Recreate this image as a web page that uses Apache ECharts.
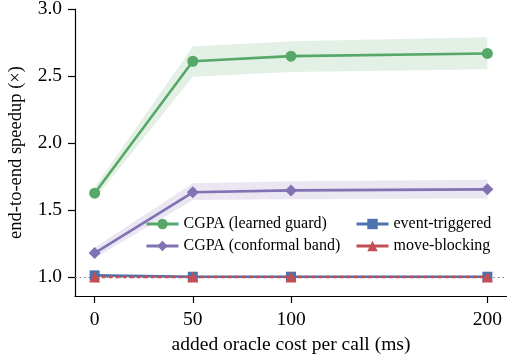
<!DOCTYPE html>
<html><head><meta charset="utf-8">
<script src="https://cdn.jsdelivr.net/npm/echarts@6/dist/echarts.min.js"></script>
<style>html,body{margin:0;padding:0;background:#fff}#c{width:507px;height:360px}</style>
</head><body><div id="c"></div>
<script>
const xs = [0, 50, 100, 200];
const xTicks = [0, 50, 100, 200];
const yTicks = [1.0, 1.5, 2.0, 2.5, 3.0];
const guard = [1.625, 2.61, 2.648, 2.668];
const guardLo = [1.58, 2.495, 2.53, 2.55];
const guardHi = [1.67, 2.72, 2.76, 2.79];
const band = [1.178, 1.632, 1.646, 1.654];
const bandLo = [1.14, 1.575, 1.58, 1.585];
const bandHi = [1.22, 1.70, 1.715, 1.725];
const eventTrig = [1.012, 1.002, 1.002, 1.002];
const moveBlock = [1.0, 1.0, 1.0, 1.0];
const names = ['CGPA (learned guard)', 'CGPA (conformal band)', 'event-triggered', 'move-blocking'];
const colors = ['#55a868', '#8172b3', '#4c72b0', '#c44e52'];
const font = 'Liberation Serif';

const pairs = v => xs.map((x, i) => [x, v[i]]);
function bandSeries(lo, hi, color) {
  const data = xs.map((x, i) => [x, lo[i], hi[i]]);
  return {
    type: 'custom', silent: true, z: 1,
    data: data,
    renderItem: function (params, api) {
      if (params.dataIndex !== 0) return null;
      const top = data.map(d => api.coord([d[0], d[2]]));
      const bot = data.map(d => api.coord([d[0], d[1]])).reverse();
      return { type: 'polygon', shape: { points: top.concat(bot) }, style: { fill: color, opacity: 0.17 } };
    },
    encode: { x: 0, y: [1, 2] }
  };
}
const legendCommon = {
  orient: 'vertical', top: 211,
  itemWidth: 32, itemHeight: 13, itemGap: 6,
  lineStyle: { width: 3, type: 'solid' },
  textStyle: { fontSize: 16, color: '#000', fontFamily: font }
};
const chart = echarts.init(document.getElementById('c'));
chart.setOption({
  animation: false,
  textStyle: { fontFamily: font },
  grid: { left: 75, right: 0, top: 9, bottom: 64, outerBoundsMode: 'none', containLabel: false },
  xAxis: {
    type: 'value', min: -10, max: 210,
    name: 'added oracle cost per call (ms)', nameLocation: 'middle', nameGap: 39,
    nameTextStyle: { fontSize: 19.5, color: '#000', fontFamily: font },
    axisLine: { onZero: false, lineStyle: { color: '#000', width: 1.2 } },
    axisTick: { show: true, customValues: xTicks, length: 7, lineStyle: { color: '#000', width: 1.2 } },
    axisLabel: { customValues: xTicks, fontSize: 19.5, color: '#000', margin: 14, fontFamily: font },
    splitLine: { show: false }
  },
  yAxis: {
    type: 'value', min: 0.858, max: 3.0,
    name: 'end-to-end speedup (×)', nameLocation: 'middle', nameGap: 49,
    nameTextStyle: { fontSize: 18.5, color: '#000', fontFamily: font },
    axisLine: { show: true, onZero: false, lineStyle: { color: '#000', width: 1.2 } },
    axisTick: { show: true, customValues: yTicks, length: 7, lineStyle: { color: '#000', width: 1.2 } },
    axisLabel: { customValues: yTicks, fontSize: 19.5, color: '#000', margin: 13, fontFamily: font,
      formatter: v => v.toFixed(1) },
    splitLine: { show: false }
  },
  legend: [
    Object.assign({ data: [names[0], names[1]], left: 140 }, legendCommon),
    Object.assign({ data: [names[2], names[3]], left: 350 }, legendCommon)
  ],
  series: [
    bandSeries(guardLo, guardHi, colors[0]),
    bandSeries(bandLo, bandHi, colors[1]),
    { name: names[0], type: 'line', data: pairs(guard), symbol: 'circle', symbolSize: 11, z: 5,
      itemStyle: { color: colors[0] }, lineStyle: { width: 2.6, color: colors[0] } },
    { name: names[1], type: 'line', data: pairs(band), symbol: 'diamond', symbolSize: 12, z: 5,
      itemStyle: { color: colors[1] }, lineStyle: { width: 2.6, color: colors[1] } },
    { name: names[2], type: 'line', data: pairs(eventTrig), symbol: 'rect', symbolSize: 10, z: 5,
      itemStyle: { color: colors[2] }, lineStyle: { width: 2.6, color: colors[2] },
      markLine: { silent: true, symbol: 'none', label: { show: false },
        lineStyle: { color: '#777', type: [1.5, 3], width: 1 },
        data: [{ yAxis: 1.0 }] } },
    { name: names[3], type: 'line', data: pairs(moveBlock), symbol: 'triangle', symbolSize: 11, z: 6,
      itemStyle: { color: colors[3] }, lineStyle: { width: 2.6, color: colors[3], type: [4, 3] } }
  ]
});
</script></body></html>
